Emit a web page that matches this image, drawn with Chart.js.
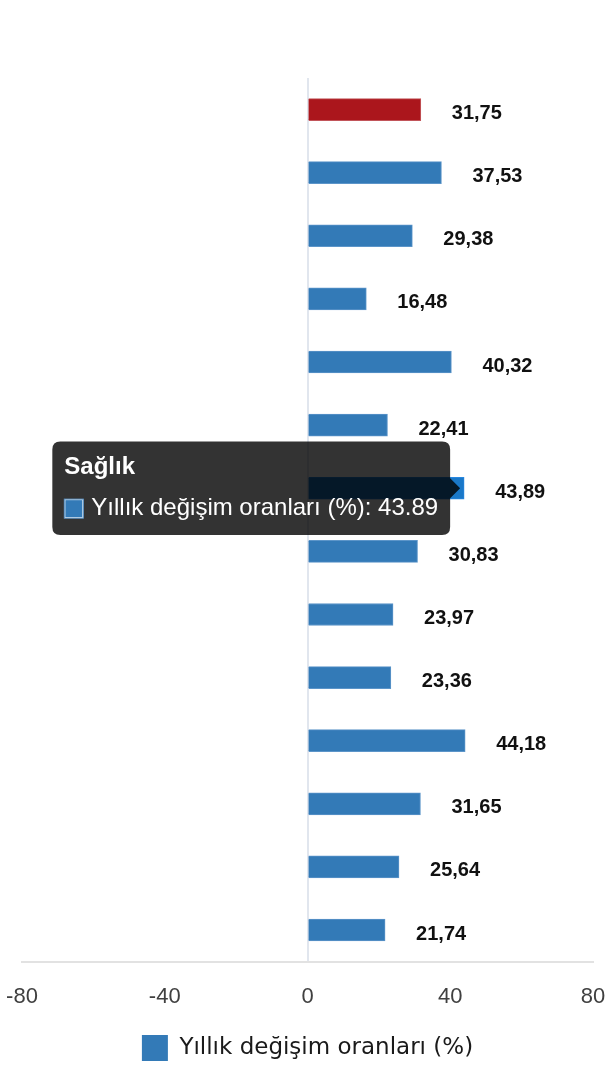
<!DOCTYPE html>
<html lang="tr">
<head>
<meta charset="utf-8">
<title>Yıllık değişim oranları</title>
<script src="https://cdn.jsdelivr.net/npm/chart.js@4.4.1/dist/chart.umd.min.js"></script>
<style>
  html, body { margin: 0; padding: 0; background: #fff; }
  #wrap { width: 610px; height: 1080px; position: relative; }
</style>
</head>
<body>
<div id="wrap"><canvas id="changeChart"></canvas></div>
<script>
// Categories (top to bottom) and annual change values (%)
const categories = [
  'Genel',
  'Gıda ve alkolsüz içecekler',
  'Alkollü içecekler ve tütün',
  'Giyim ve ayakkabı',
  'Konut, su, elektrik, gaz ve diğer yakıtlar',
  'Mobilya, mefruşat ve ev bakımı',
  'Sağlık',
  'Ulaştırma',
  'Bilgi ve iletişim',
  'Eğlence, spor ve kültür',
  'Eğitim hizmetleri',
  'Lokanta ve konaklama hizmetleri',
  'Sigorta ve finansal hizmetler',
  'Kişisel bakım ve çeşitli mal ve hizmetler'
];
const changeValues = [31.75, 37.53, 29.38, 16.48, 40.32, 22.41, 43.89, 30.83, 23.97, 23.36, 44.18, 31.65, 25.64, 21.74];
const xTicks = [-80, -40, 0, 40, 80];
const seriesLabel = 'Yıllık değişim oranları (%)';
const highlightIndex = 0; // "Genel" bar drawn in red
const tooltipIndex = 6;   // tooltip shown on "Sağlık"

const BLUE = '#337ab7';
const BLUE_BORDER = '#5c95c9';
const BLUE_HOVER = '#1a78c8';
const RED = '#ab161c';
const RED_BORDER = '#c2555a';

// Draws the bold value labels to the right of each bar
const valueLabels = {
  id: 'valueLabels',
  afterDatasetsDraw(chart) {
    const meta = chart.getDatasetMeta(0);
    const ctx = chart.ctx;
    ctx.save();
    ctx.font = 'bold 20px "Liberation Sans", Arial, sans-serif';
    ctx.fillStyle = '#111';
    ctx.textAlign = 'left';
    ctx.textBaseline = 'middle';
    meta.data.forEach((bar, i) => {
      const txt = changeValues[i].toFixed(2).replace('.', ',');
      ctx.fillText(txt, bar.x + 31, bar.y + 4);
    });
    ctx.restore();
  }
};

const ctx = document.getElementById('changeChart');

const chart = new Chart(ctx, {
  type: 'bar',
  data: {
    labels: categories,
    datasets: [
      {
        label: seriesLabel,
        data: changeValues,
        backgroundColor: (c) => (c.dataIndex === highlightIndex ? RED : BLUE),
        borderColor: (c) => (c.dataIndex === highlightIndex ? RED_BORDER : BLUE_BORDER),
        hoverBackgroundColor: (c) => (c.dataIndex === highlightIndex ? RED : BLUE_HOVER),
        borderWidth: 1,
        barThickness: 22
      }
    ]
  },
  options: {
    indexAxis: 'y',
    responsive: true,
    maintainAspectRatio: false,
    animation: false,
    locale: 'en-US',
    layout: {
      padding: { top: 78, left: 22, right: 17, bottom: 9 }
    },
    scales: {
      x: {
        min: -80,
        max: 80,
        afterBuildTicks: (scale) => {
          scale.ticks = xTicks.map((v) => ({ value: v }));
        },
        afterFit: (scale) => {
          // let the layout padding decide the plot edges
          scale.paddingLeft = 0;
          scale.paddingRight = 0;
        },
        border: { display: true, color: '#e2e2e2', width: 2 },
        grid: {
          drawTicks: false,
          lineWidth: 2,
          color: (c) => (c.tick && c.tick.value === 0 ? '#e1e6ee' : 'rgba(0,0,0,0)')
        },
        ticks: {
          padding: 22,
          color: '#404040',
          font: { family: '"Liberation Sans", Arial, sans-serif', size: 22 }
        }
      },
      y: {
        display: false
      }
    },
    plugins: {
      legend: {
        position: 'bottom',
        labels: {
          boxWidth: 26,
          boxHeight: 26,
          padding: 3,
          color: '#1a1a1a',
          font: { family: '"DejaVu Sans", sans-serif', size: 23 },
          generateLabels: (chart) => {
            const items = Chart.defaults.plugins.legend.labels.generateLabels(chart);
            items.forEach((it) => {
              it.fillStyle = BLUE;
              it.strokeStyle = BLUE;
              it.lineWidth = 0;
            });
            return items;
          }
        }
      },
      tooltip: {
        backgroundColor: 'rgba(0,0,0,0.8)',
        titleColor: '#fff',
        bodyColor: '#fff',
        titleFont: { family: '"Liberation Sans", Arial, sans-serif', size: 24, weight: 'bold' },
        bodyFont: { family: '"Liberation Sans", Arial, sans-serif', size: 24 },
        titleMarginBottom: 12,
        padding: 12,
        cornerRadius: 8,
        caretSize: 10,
        caretPadding: 4,
        boxWidth: 19,
        boxHeight: 19,
        boxPadding: 6
      }
    }
  },
  plugins: [valueLabels]
});

// Show the tooltip on the "Sağlık" bar as in the reference
const active = [{ datasetIndex: 0, index: tooltipIndex }];
chart.setActiveElements(active);
chart.tooltip.setActiveElements(active, { x: 0, y: 0 });
chart.update();
</script>
</body>
</html>
